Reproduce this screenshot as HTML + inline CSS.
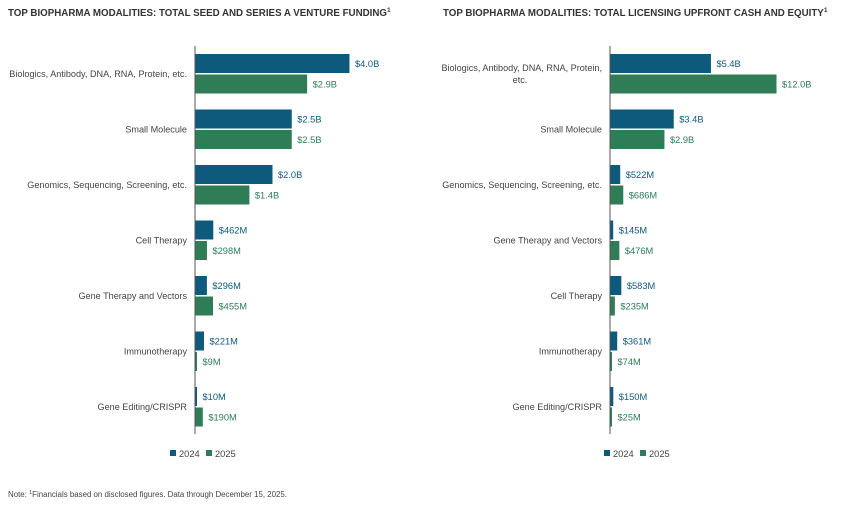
<!DOCTYPE html>
<html><head><meta charset="utf-8"><style>
body{margin:0;background:#fff;width:865px;height:503px;overflow:hidden;font-family:"Liberation Sans",sans-serif;}
svg text{font-family:"Liberation Sans",sans-serif;}
</style></head><body>
<svg id="c" width="865" height="503">
<text x="8" y="16" font-size="9.75" font-weight="bold" fill="#333">TOP BIOPHARMA MODALITIES: TOTAL SEED AND SERIES A VENTURE FUNDING<tspan font-size="6.5" dy="-4">1</tspan></text>
<text x="443" y="16" font-size="9.75" font-weight="bold" fill="#333">TOP BIOPHARMA MODALITIES: TOTAL LICENSING UPFRONT CASH AND EQUITY<tspan font-size="6.5" dy="-4">1</tspan></text>
<text x="8" y="497" font-size="7.9" fill="#444">Note: <tspan font-size="5.5" dy="-3">1</tspan><tspan dy="3">Financials based on disclosed figures. Data through December 15, 2025.</tspan></text>
</svg>
<script>
const leftCats=["Biologics, Antibody, DNA, RNA, Protein, etc.","Small Molecule","Genomics, Sequencing, Screening, etc.","Cell Therapy","Gene Therapy and Vectors","Immunotherapy","Gene Editing/CRISPR"];
const left2024=[4.0,2.5,2.0,0.462,0.296,0.221,0.010];
const left2025=[2.9,2.5,1.4,0.298,0.455,0.009,0.190];
const left2024Labels=["$4.0B","$2.5B","$2.0B","$462M","$296M","$221M","$10M"];
const left2025Labels=["$2.9B","$2.5B","$1.4B","$298M","$455M","$9M","$190M"];
const rightCats=["Biologics, Antibody, DNA, RNA, Protein,|etc.","Small Molecule","Genomics, Sequencing, Screening, etc.","Gene Therapy and Vectors","Cell Therapy","Immunotherapy","Gene Editing/CRISPR"];
const right2024=[5.4,3.4,0.522,0.145,0.583,0.361,0.150];
const right2025=[12.0,2.9,0.686,0.476,0.235,0.074,0.025];
const right2024Labels=["$5.4B","$3.4B","$522M","$145M","$583M","$361M","$150M"];
const right2025Labels=["$12.0B","$2.9B","$686M","$476M","$235M","$74M","$25M"];
const svg=document.getElementById('c');const NS="http://www.w3.org/2000/svg";
function mk(t,a){const e=document.createElementNS(NS,t);for(const k in a)e.setAttribute(k,a[k]);svg.appendChild(e);return e;}
const BLUE="#0d5a7c",GREEN="#2f7d57";
function draw(prefix,cats,a,b,la,lb,x0,scale,maxW,legX){
  const y0=54,pitch=55.5,bh=19;
  const ax=mk('line',{x1:x0,x2:x0,y1:46,y2:434,stroke:"#555","stroke-width":1});
  
  cats.forEach((c,i)=>{
    const gy=y0+i*pitch;
    const lines=c.split('|');
    const t=mk('text',{x:x0-8,y:gy+23-(lines.length-1)*6,"font-size":9.1,fill:"#444","text-anchor":"end"});
    
    lines.forEach((l,j)=>{const s=document.createElementNS(NS,'tspan');s.setAttribute('x',j?x0-90:x0-8);if(j){s.setAttribute('dy',12);s.setAttribute('text-anchor','middle');}s.textContent=l;t.appendChild(s);});
    [[a[i],la[i],BLUE,0,'2024'],[b[i],lb[i],GREEN,bh+1.5,'2025']].forEach(([v,lab,col,off,yr])=>{
      const w=Math.max(1.5,Math.min(v*scale,maxW));
      const r=mk('rect',{x:x0+0.5,y:gy+off,width:w,height:bh,fill:col});
      
      const tx=mk('text',{x:x0+w+6,y:gy+off+13,"font-size":9.3,fill:col});
      
      tx.textContent=lab;
    });
  });
  [[BLUE,'2024',0],[GREEN,'2025',36]].forEach(([col,yr,dx])=>{
    const r=mk('rect',{x:legX+dx,y:450,width:6,height:6,fill:col});
    
    const t=mk('text',{x:legX+dx+9,y:457,"font-size":9.3,fill:"#444"});
    
    t.textContent=yr;
  });
}
draw('left',leftCats,left2024,left2025,left2024Labels,left2025Labels,195,38.5,400,170);
draw('right',rightCats,right2024,right2025,right2024Labels,right2025Labels,610,18.6,166,604);
</script>
</body></html>
